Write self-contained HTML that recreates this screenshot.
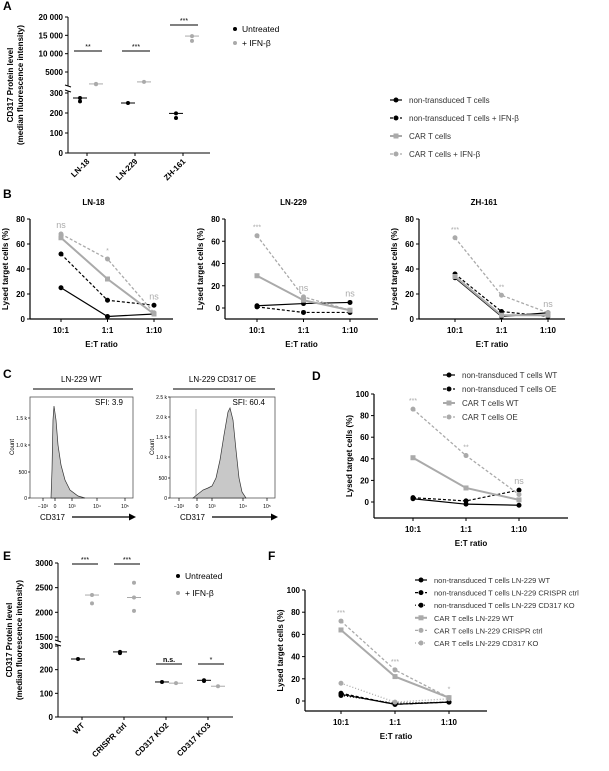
<!DOCTYPE html>
<html><head><meta charset="utf-8">
<style>
html,body{margin:0;padding:0;background:#fff;}
svg{display:block;font-family:"Liberation Sans",Arial,sans-serif;}
.b{font-weight:bold;}
</style></head>
<body>
<svg id="fig" width="609" height="771" viewBox="0 0 609 771" xmlns="http://www.w3.org/2000/svg"></svg>
<script>
// ---------- DATA ----------
const aCats = ["LN-18","LN-229","ZH-161"];
const aUntreated = [[275,258],[250],[198,175]];
const aIfn = [[1750,1650],[2300],[14800,13500]];
const aSig = ["**","***","***"];

const etCats = ["10:1","1:1","1:10"];
const bTicks = [0,20,40,60,80];
const b1Nt = [25,2,4], b1NtIfn = [52,15,11], b1Car = [65,32,4], b1CarIfn = [68,48,5];
const b2Nt = [2,4,5], b2NtIfn = [1,-4,-4], b2Car = [29,7,-2], b2CarIfn = [65,10,-2];
const b3Nt = [33,2,5], b3NtIfn = [36,6,2], b3Car = [34,3,3], b3CarIfn = [65,19,5];
const b1Sig = ["ns","*","ns"], b2Sig = ["***","ns","ns"], b3Sig = ["***","**","ns"];

const dTicks = [0,20,40,60,80,100];
const dNtWt = [3,-2,-3], dNtOe = [4,1,11], dCarWt = [41,13,2], dCarOe = [86,43,7];
const dSig = ["***","**","ns"];

const eCats = ["WT","CRISPR ctrl","CD317 KO2","CD317 KO3"];
const eUntreated = [[245],[275,270],[148],[152,155]];
const eIfn = [[2350,2180],[2600,2300,2030],[143],[130]];
const eSig = ["***","***","n.s.","*"];

const fNtWt = [6,-3,-1], fNtCrispr = [7,-3,-1], fNtKo = [5,-2,-1];
const fCarWt = [64,22,3], fCarCrispr = [72,28,3], fCarKo = [16,-1,2];
const fSig = ["***","***","*"];

// ---------- HELPERS ----------
const NS = "http://www.w3.org/2000/svg";
const svg = document.getElementById("fig");
function mk(tag, attrs, parent){
  const e = document.createElementNS(NS, tag);
  for (const k in attrs) e.setAttribute(k, attrs[k]);
  (parent || svg).appendChild(e);
  return e;
}
function txt(x, y, s, size, anchor, bold, fill, parent){
  const t = mk("text", {x:x, y:y, "font-size":size, "text-anchor":anchor||"start", fill:fill||"#000"}, parent);
  if (bold) t.setAttribute("font-weight","bold");
  t.textContent = s;
  return t;
}
function line(x1,y1,x2,y2,stroke,w,parent){
  return mk("line",{x1:x1,y1:y1,x2:x2,y2:y2,stroke:stroke||"#000","stroke-width":w||1},parent);
}
function median(a){ const s=[...a].sort((p,q)=>p-q); return s[Math.floor(s.length/2)] ; }
const GREY = "#aaaaaa";

// Panel labels
[["A",3,10],["B",3,198],["C",3,378],["D",312,380],["E",3,560],["F",268,560]].forEach(p=>{
  const t = txt(p[1],p[2],p[0],12,"start",true);
  
  
});

// ---------- DOT PLOT (A, E) ----------
function dotPlot(cfg){
  const g = mk("g",{});
  
  
  const yU = v => cfg.uTop + (cfg.uMax - v) * cfg.uK;
  const yL = v => cfg.l0 - v * cfg.lK;
  const ys = v => v > cfg.breakVal ? yU(v) : yL(v);
  const ax1 = line(cfg.x, yU(cfg.uMax), cfg.x, cfg.uBot, "#000", 1, g);
  
  
  const ax2 = line(cfg.x, cfg.lTop, cfg.x, cfg.l0, "#000", 1, g);
  
  
  const ax3 = line(cfg.x, cfg.l0, cfg.xEnd, cfg.l0, "#000", 1, g);
  
  
  line(cfg.x-3, cfg.uBot-1, cfg.x+3, cfg.uBot+1, "#000", 1, g);
  line(cfg.x-3, cfg.lTop-1, cfg.x+3, cfg.lTop+1, "#000", 1, g);
  cfg.uTicks.forEach(v=>{
    line(cfg.x-3, yU(v), cfg.x, yU(v), "#000", 1, g);
    const t = txt(cfg.x-5, yU(v)+3, cfg.fmt(v), 8, "end", true, "#000", g);
    
    
  });
  cfg.lTicks.forEach(v=>{
    line(cfg.x-3, yL(v), cfg.x, yL(v), "#000", 1, g);
    const t = txt(cfg.x-5, yL(v)+3, String(v), 8, "end", true, "#000", g);
    
    
  });
  const yt = mk("text",{transform:`translate(${cfg.titleX},${cfg.titleY}) rotate(-90)`, "font-size":8, "text-anchor":"middle", "font-weight":"bold"}, g);
  
  
  const t1 = mk("tspan",{x:0, dy:0}, yt); t1.textContent = "CD317 Protein level";
  const t2 = mk("tspan",{x:0, dy:10}, yt); t2.textContent = "(median fluorescence intensity)";
  cfg.cats.forEach((c,i)=>{
    const cx = cfg.x + cfg.off + i*cfg.step;
    line(cx, cfg.l0, cx, cfg.l0+3, "#000", 1, g);
    const lab = mk("text",{transform:`translate(${cx+3},${cfg.l0+9}) rotate(-45)`, "font-size":8, "text-anchor":"end", "font-weight":"bold"}, g);
    lab.textContent = c;
    
    
    [[cfg.unt[i], "#000", cx-cfg.dx1],[cfg.ifn[i], GREY, cx+cfg.dx2]].forEach(s=>{
      const m = median(s[0]);
      const ml = line(s[2]-7, ys(m), s[2]+7, ys(m), s[1], 1, g);
      
      
      s[0].forEach(v=>{
        const d = mk("circle",{cx:s[2], cy:ys(v), r:2, fill:s[1]}, g);
        
        
      });
    });
    const top = Math.max(...cfg.unt[i], ...cfg.ifn[i]);
    const sy = cfg.sigY(i, top, ys);
    const sl = line(cx-cfg.dx1-6, sy, cx+cfg.dx2+6, sy, "#000", 1, g);
    
    
    const st = txt(cx+(cfg.dx2-cfg.dx1)/2, sy-2, cfg.sig[i], 7, "middle", cfg.sig[i]==="n.s.", "#000", g);
    
    
  });
  [["Untreated","#000"],["+ IFN-β",GREY]].forEach((l,i)=>{
    const c = mk("circle",{cx:cfg.legX, cy:cfg.legY+i*cfg.legDy-3, r:2, fill:l[1]}, g);
    
    
    const t = txt(cfg.legX+7, cfg.legY+i*cfg.legDy, l[0], 8.5, "start", false, "#000", g);
    
    
  });
}
dotPlot({name:"panel-a-chart", x:68, xEnd:210, uTop:17, uMax:20000, uK:3.667/1000, uBot:86, lTop:91, l0:153, lK:0.2,
  breakVal:1000, uTicks:[20000,15000,10000,5000], lTicks:[0,100,200,300],
  fmt:v=> v>=10000 ? String(v).replace(/(\d\d)(\d{3})$/,"$1 $2") : String(v),
  titleX:13, titleY:85, cats:aCats, unt:aUntreated, ifn:aIfn, sig:aSig, off:19, step:48, dx1:7, dx2:9,
  sigY:(i,top,ys)=> i===2 ? 25 : 51, legX:235, legY:32, legDy:14});
dotPlot({name:"panel-e-chart", x:58, xEnd:233, uTop:563, uMax:3000, uK:0.0493, uBot:641, lTop:645, l0:717, lK:0.2367,
  breakVal:1000, uTicks:[3000,2500,2000,1500], lTicks:[0,100,200,300], fmt:v=>String(v),
  titleX:12, titleY:640, cats:eCats, unt:eUntreated, ifn:eIfn, sig:eSig, off:24, step:42, dx1:4, dx2:10,
  sigY:(i,top,ys)=> i<2 ? 564 : 664, legX:178, legY:579, legDy:17});

// ---------- LINE CHARTS ----------
const STY = {
  nt:{c:"#000", dash:"", w:1.2, m:"circle"},
  ntIfn:{c:"#000", dash:"3,2", w:1.2, m:"circle"},
  ntDot:{c:"#000", dash:"1,2", w:1.2, m:"circle"},
  car:{c:GREY, dash:"", w:2, m:"square"},
  carIfn:{c:GREY, dash:"3,2", w:1.3, m:"circle"},
  carDot:{c:GREY, dash:"1,2", w:1.3, m:"circle"}
};
function marker(g, type, x, y, c){
  let e;
  if (type==="square") e = mk("rect",{x:x-2.5, y:y-2.5, width:5, height:5, fill:c}, g);
  else e = mk("circle",{cx:x, cy:y, r:2.5, fill:c}, g);
  return e;
}
function lineChart(cfg){
  const g = mk("g",{});
  
  
  const ys = v => cfg.y0 - v * cfg.k;
  const xs = i => cfg.x + cfg.off + i * cfg.step;
  const ay = line(cfg.x, ys(cfg.ticks[cfg.ticks.length-1]), cfg.x, cfg.bot, "#000", 1.2, g);
  
  
  const axx = line(cfg.x, cfg.bot, cfg.xEnd, cfg.bot, "#000", 1.2, g);
  
  
  cfg.ticks.forEach(v=>{
    line(cfg.x-3, ys(v), cfg.x, ys(v), "#000", 1, g);
    const t = txt(cfg.x-5, ys(v)+3, String(v), 8, "end", true, "#000", g);
    
    
  });
  etCats.forEach((c,i)=>{
    line(xs(i), cfg.bot, xs(i), cfg.bot+3, "#000", 1, g);
    const t = txt(xs(i), cfg.bot+14, c, 8, "middle", true, "#000", g);
    
    
  });
  const xt = txt((cfg.x+cfg.xEnd)/2, cfg.bot+28, "E:T ratio", 8, "middle", true, "#000", g);
  
  
  const yt = mk("text",{transform:`translate(${cfg.x-22},${(ys(cfg.ticks[cfg.ticks.length-1])+cfg.bot)/2}) rotate(-90)`, "font-size":8, "text-anchor":"middle", "font-weight":"bold"}, g);
  yt.textContent = "Lysed target cells (%)";
  
  
  if (cfg.title){
    const tt = txt((cfg.x+cfg.xEnd)/2-8, cfg.titleY, cfg.title, 8, "middle", true, "#000", g);
    
    
  }
  cfg.series.forEach(s=>{
    const st = STY[s.style];
    const pts = s.vals.map((v,i)=> xs(i)+","+ys(v)).join(" ");
    const pl = mk("polyline",{points:pts, fill:"none", stroke:st.c, "stroke-width":st.w, "stroke-dasharray":st.dash}, g);
    
    
    s.vals.forEach((v,i)=>{
      const m = marker(g, st.m, xs(i), ys(v), st.c);
      
      
    });
  });
  cfg.sig.forEach((s,i)=>{
    const top = Math.max(...cfg.series.map(se=>se.vals[i]));
    const t = txt(xs(i), ys(top) - 6, s, s==="ns" ? 9 : 7, "middle", false, GREY, g);
    
    
  });
}
lineChart({name:"panel-b-ln18-chart", title:"LN-18", titleY:205, x:30, xEnd:173, off:31, step:46.5, y0:319, k:1.25, bot:319, ticks:bTicks,
  series:[{name:"nt",vals:b1Nt,style:"nt"},{name:"nt-ifn",vals:b1NtIfn,style:"ntIfn"},{name:"car",vals:b1Car,style:"car"},{name:"car-ifn",vals:b1CarIfn,style:"carIfn"}], sig:b1Sig});
lineChart({name:"panel-b-ln229-chart", title:"LN-229", titleY:205, x:225, xEnd:378, off:32, step:46.5, y0:308, k:1.1125, bot:319, ticks:bTicks,
  series:[{name:"nt",vals:b2Nt,style:"nt"},{name:"nt-ifn",vals:b2NtIfn,style:"ntIfn"},{name:"car",vals:b2Car,style:"car"},{name:"car-ifn",vals:b2CarIfn,style:"carIfn"}], sig:b2Sig});
lineChart({name:"panel-b-zh161-chart", title:"ZH-161", titleY:205, x:419, xEnd:565, off:36, step:46.5, y0:319, k:1.25, bot:319, ticks:bTicks,
  series:[{name:"nt",vals:b3Nt,style:"nt"},{name:"nt-ifn",vals:b3NtIfn,style:"ntIfn"},{name:"car",vals:b3Car,style:"car"},{name:"car-ifn",vals:b3CarIfn,style:"carIfn"}], sig:b3Sig});
lineChart({name:"panel-d-chart", x:374, xEnd:568, off:39, step:53, y0:502, k:1.08, bot:518, ticks:dTicks,
  series:[{name:"nt-wt",vals:dNtWt,style:"nt"},{name:"nt-oe",vals:dNtOe,style:"ntIfn"},{name:"car-wt",vals:dCarWt,style:"car"},{name:"car-oe",vals:dCarOe,style:"carIfn"}], sig:dSig});
lineChart({name:"panel-f-chart", x:305, xEnd:487, off:36, step:54, y0:701, k:1.11, bot:711, ticks:dTicks,
  series:[{name:"nt-wt",vals:fNtWt,style:"nt"},{name:"nt-crispr",vals:fNtCrispr,style:"ntIfn"},{name:"nt-ko",vals:fNtKo,style:"ntDot"},
          {name:"car-wt",vals:fCarWt,style:"car"},{name:"car-crispr",vals:fCarCrispr,style:"carIfn"},{name:"car-ko",vals:fCarKo,style:"carDot"}], sig:fSig});

// ---------- LEGENDS for line charts ----------
function lineLegend(name, x, y, dy, entries, size){
  const g = mk("g",{});
  
  
  entries.forEach((e,i)=>{
    const st = STY[e[1]];
    const yy = y + i*dy;
    line(x, yy, x+12, yy, st.c, st.w, g).setAttribute("stroke-dasharray", st.dash);
    const m = marker(g, st.m, x+6, yy, st.c);
    
    
    const t = txt(x+19, yy+3, e[0], size, "start", false, "#333", g);
    
    
  });
}
lineLegend("panel-b-legend", 390, 100, 18, [["non-transduced T cells","nt"],["non-transduced T cells + IFN-β","ntIfn"],["CAR T cells","car"],["CAR T cells + IFN-β","carIfn"]], 8);
lineLegend("panel-d-legend", 443, 375, 14, [["non-transduced T cells WT","nt"],["non-transduced T cells OE","ntIfn"],["CAR T cells WT","car"],["CAR T cells OE","carIfn"]], 8);
lineLegend("panel-f-legend", 415, 580, 12.6, [["non-transduced T cells LN-229 WT","nt"],["non-transduced T cells LN-229 CRISPR ctrl","ntIfn"],["non-transduced T cells LN-229 CD317 KO","ntDot"],["CAR T cells LN-229 WT","car"],["CAR T cells LN-229 CRISPR ctrl","carIfn"],["CAR T cells LN-229 CD317 KO","carDot"]], 7.5);

// ---------- HISTOGRAMS (C) ----------
function hist(cfg){
  const g = mk("g",{});
  
  
  const tl = line(cfg.x+3, 389, cfg.x2, 389, "#000", 1, g);
  
  
  const tt = txt((cfg.x+cfg.x2)/2, 382, cfg.title, 8, "middle", false, "#000", g);
  
  
  const box = mk("rect",{x:cfg.x, y:397, width:cfg.x2-cfg.x, height:101, fill:"none", stroke:"#555", "stroke-width":0.8}, g);
  
  
  if (cfg.spike){
    const sp = mk("rect",{x:cfg.spike-1, y:409, width:2, height:89, fill:"#ddd"}, g);
    
    
  }
  const p = mk("path",{d:cfg.path, fill:"#c8c8c8", stroke:"#333", "stroke-width":0.7}, g);
  
  
  cfg.yTicks.forEach(t=>{
    line(cfg.x-2, t[1], cfg.x, t[1], "#000", 0.7, g);
    const l = txt(cfg.x-3, t[1]+2, t[0], 5, "end", false, "#000", g);
    
    
  });
  const c = mk("text",{transform:`translate(${cfg.x-16},447) rotate(-90)`, "font-size":6, "text-anchor":"middle"}, g);
  c.textContent = "Count";
  
  
  const xl = [["−10³",0],["0",1],["10³",2],["10⁴",3],["10⁵",4]];
  xl.forEach((l,i)=>{
    const xx = cfg.x + cfg.tx[i];
    line(xx, 498, xx, 501, "#000", 0.7, g);
    const t = txt(xx, 508, l[0], 5, "middle", false, "#000", g);
    
    
  });
  const xt = txt(cfg.x+10, 520, "CD317", 8, "start", false, "#000", g);
  
  
  const ar = line(cfg.x+42, 517, cfg.x2-2, 517, "#000", 1.2, g);
  
  
  mk("polygon",{points:`${cfg.x2+3},517 ${cfg.x2-4},513.5 ${cfg.x2-4},520.5`, fill:"#000"}, g);
  const sf = txt(cfg.x2-10, 405, cfg.sfi, 8, "end", false, "#000", g);
  
  
}
hist({name:"histogram-wt", title:"LN-229 WT", x:30, x2:133, sfi:"SFI: 3.9",
  path:"M51,498 L52,470 L53,420 L54,406 L56,420 L58,445 L61,465 L65,480 L70,490 L78,496 L85,498 Z",
  yTicks:[["0",498],["500",472],["1.0 k",445],["1.5 k",418]], tx:[13,25,42,67,95]});
hist({name:"histogram-oe", title:"LN-229 CD317 OE", x:170, x2:275, sfi:"SFI: 60.4", spike:196,
  path:"M193,498 L198,494 L203,490 L208,488 L212,486 L216,478 L220,460 L224,435 L228,412 L230,408 L233,420 L236,450 L239,478 L242,492 L246,498 Z",
  yTicks:[["0",498],["500",478],["1.0 k",457],["1.5 k",437],["2.0 k",417],["2.5 k",397]], tx:[9,27,42,73,97]});
</script>
</body></html>
